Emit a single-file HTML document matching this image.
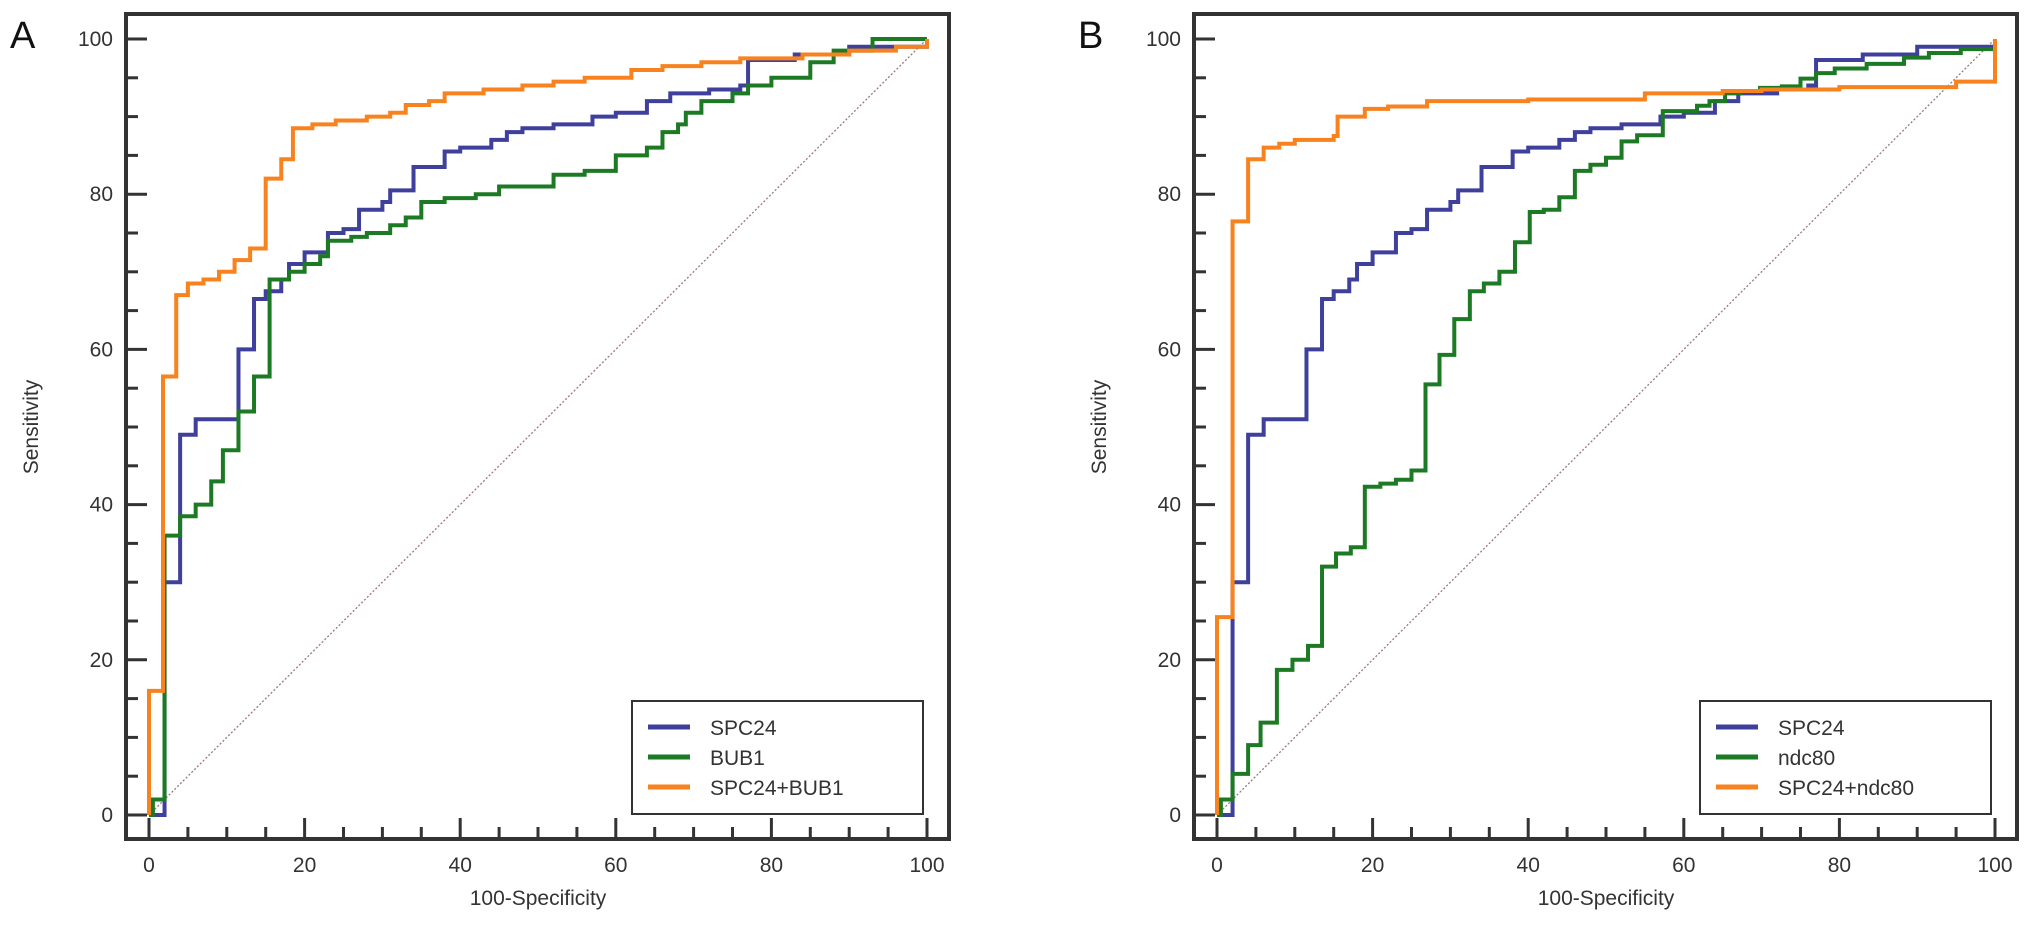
<!DOCTYPE html>
<html><head><meta charset="utf-8"><style>
html,body{margin:0;padding:0;background:#fff;}
svg{display:block;font-family:"Liberation Sans",Arial,sans-serif;}
</style></head><body>
<svg id="chart" width="2031" height="930" viewBox="0 0 2031 930" xmlns="http://www.w3.org/2000/svg"></svg>
<script>
// ---- data (100-Specificity, Sensitivity) ----
const spc24X = [0,2,4,6,8,11.5,11.5,13.5,13.5,15,17,18,20,23,23,25,27,27,30,31,34,34,38,38,40,44,46,48,52,57,60,64,64,67,72,76,77,77,83,90,100];
const spc24Y = [0,30,49,51,51,52,60,60.5,66.5,67.5,69,71,72.5,73,75,75.5,75.5,78,79,80.5,81.5,83.5,83.5,85.5,86,87,88,88.5,89,90,90.5,90.5,92,93,93.5,94,94.5,97.3,98,99,100];
const bub1X = [0,0.5,2,4,6,8,9.5,11.5,13.5,15.5,18,20,22,23,26,28,31,33,35,38,42,45,52,56,60,64,66,68,69,71,75,77,80,85,88,93,100];
const bub1Y = [0,2,36,38.5,40,43,47,52,56.5,69,70,71,72,74,74.5,75,76,77,79,79.5,80,81,82.5,83,85,86,88,89,90.5,92,93,94,95,97,98.5,100,100];
const comboAX = [0,0,1.8,3.5,5,7,9,11,13,15,17,18.5,21,24,28,31,33,36,38,43,48,52,56,62,66,71,76,84,90,96,100];
const comboAY = [0,16,56.5,67,68.5,69,70,71.5,73,82,84.5,88.5,89,89.5,90,90.5,91.5,92,93,93.5,94,94.5,95,96,96.5,97,97.5,98,98.5,99,100];
const ndc80X = [0,0.5,2,4,5.6,7.7,9.7,11.7,13.5,15.3,17.2,19,21,23,25,26.8,28.6,30.5,32.5,34.3,36.3,38.3,40.2,42,44,46,48,50,52,54,57.3,61.7,63.3,65.3,67.3,69.8,72.6,75,77,79.4,83.5,88.3,91.5,95.6,100];
const ndc80Y = [0,2,5.3,9,11.9,18.7,20,21.8,32,33.7,34.5,42.3,42.7,43.2,44.4,55.5,59.3,63.9,67.5,68.5,70,73.8,77.7,78,79.6,83,83.8,84.7,86.8,87.6,90.7,91.4,92,93,93.3,93.7,93.9,94.9,95.6,96.2,96.8,97.6,98.2,98.7,99.5];
const comboBX = [0,0,2,4,6,8,10,15,15.5,19,22,27,40,55,65,70,80,95,100,100];
const comboBY = [0,25.5,76.5,84.5,86,86.5,87,87.5,90,91,91.3,92,92.2,93,93.3,93.5,93.8,94.5,94.5,100];
const tickValues = [0,20,40,60,80,100];
const legendA = ["SPC24","BUB1","SPC24+BUB1"];
const legendB = ["SPC24","ndc80","SPC24+ndc80"];

const NS = "http://www.w3.org/2000/svg";
const svg = document.getElementById("chart");
const BLUE="#3f3f9c", GREEN="#1d7a24", ORANGE="#f7821e";
function mk(tag, attrs, parent){const e=document.createElementNS(NS,tag);for(const k in attrs)e.setAttribute(k,attrs[k]);(parent||svg).appendChild(e);return e;}

function panel(off, letter, series, labels, pname){
  const x0=149+off, xs=7.78, y0=815, ys=7.76;
  const sx=v=>x0+v*xs, sy=v=>y0-v*ys;
  const g=mk("g",{});
  
  
  const box=mk("rect",{x:126+off,y:14,width:823,height:825,fill:"none",stroke:"#333",'stroke-width':4},g);
  
  
  const L=mk("text",{x:10+off,y:48,'font-size':38,fill:"#111"},g);L.textContent=letter;
  
  
  for(let v=0;v<=100;v+=5){
    const maj=v%20===0, len=maj?21:12;
    mk("line",{x1:126+off,x2:126+off+len,y1:sy(v),y2:sy(v),stroke:"#333",'stroke-width':3},g);
    mk("line",{x1:sx(v),x2:sx(v),y1:839,y2:839-len,stroke:"#333",'stroke-width':3},g);
  }
  tickValues.forEach(v=>{
    const t=mk("text",{x:113+off,y:sy(v)+7,'font-size':21,'text-anchor':'end',fill:"#333"},g);t.textContent=v;
    
    
    const u=mk("text",{x:sx(v),y:872,'font-size':21,'text-anchor':'middle',fill:"#333"},g);u.textContent=v;
    
    
  });
  const xt=mk("text",{x:(sx(0)+sx(100))/2,y:905,'font-size':21,'text-anchor':'middle',fill:"#333"},g);xt.textContent="100-Specificity";
  
  
  const yt=mk("text",{x:0,y:0,'font-size':21,'text-anchor':'middle',fill:"#333",transform:`translate(${38+off},427) rotate(-90)`},g);yt.textContent="Sensitivity";
  
  
  const dg=mk("line",{x1:sx(0),y1:sy(0),x2:sx(100),y2:sy(100),stroke:"#9a7a78",'stroke-width':1.3,'stroke-dasharray':"2,2"},g);
  
  
  series.forEach(s=>{
    let d=`M${sx(s.x[0])},${sy(s.y[0])}`;
    for(let i=1;i<s.x.length;i++){d+=` H${sx(s.x[i])} V${sy(s.y[i])}`;}
    const p=mk("path",{d:d,fill:"none",stroke:s.c,'stroke-width':4,'stroke-linejoin':'miter'},g);
    
    
  });
  const lg=mk("g",{},g);
  
  
  mk("rect",{x:632+off,y:701,width:291,height:113,fill:"#fff",stroke:"#333",'stroke-width':2},lg);
  labels.forEach((lab,i)=>{
    const yy=727+i*30;
    mk("line",{x1:648+off,x2:690+off,y1:yy,y2:yy,stroke:series[i].c,'stroke-width':5},lg);
    const t=mk("text",{x:710+off,y:yy+8,'font-size':21,fill:"#333"},lg);t.textContent=lab;
    
    
  });
}
panel(0,"A",[{x:spc24X,y:spc24Y,c:BLUE,n:"spc24-curve"},{x:bub1X,y:bub1Y,c:GREEN,n:"bub1-curve"},{x:comboAX,y:comboAY,c:ORANGE,n:"spc24-bub1-curve"}],legendA,"panel-a");
panel(1068,"B",[{x:spc24X,y:spc24Y,c:BLUE,n:"spc24-curve"},{x:ndc80X,y:ndc80Y,c:GREEN,n:"ndc80-curve"},{x:comboBX,y:comboBY,c:ORANGE,n:"spc24-ndc80-curve"}],legendB,"panel-b");
</script>
</body></html>
